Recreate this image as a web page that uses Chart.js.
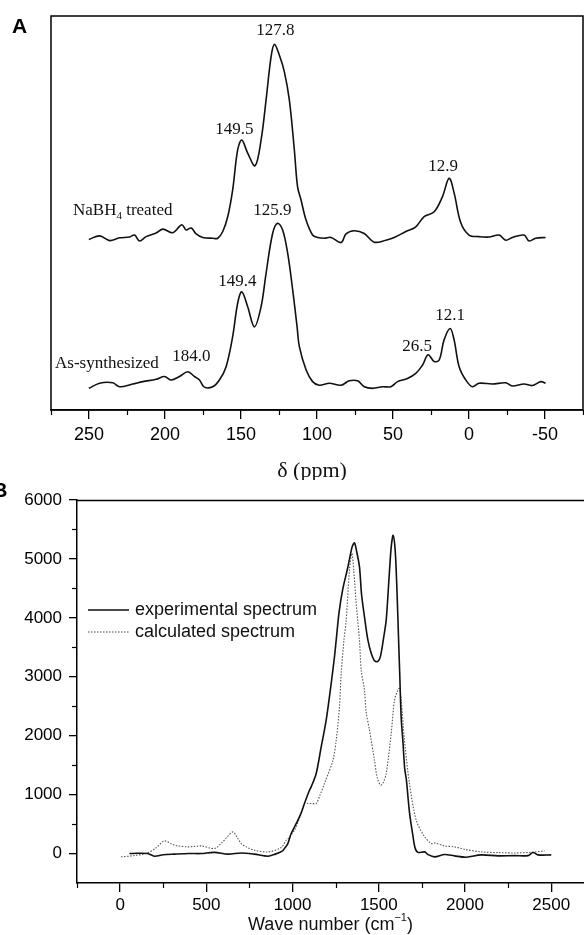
<!DOCTYPE html>
<html><head><meta charset="utf-8">
<script src="https://cdn.jsdelivr.net/npm/chart.js@4.4.0/dist/chart.umd.min.js"></script>
<style>
html,body{margin:0;padding:0;background:#fff;overflow:hidden;width:584px;height:935px;}
#cA{position:absolute;left:0;top:0;}
#cB{position:absolute;left:0;top:478px;}
</style></head><body>
<canvas id="cA" width="584" height="480"></canvas>
<canvas id="cB" width="584" height="457"></canvas>
<script>
// ---------- Panel A: 13C NMR (ppm vs arbitrary intensity) ----------
const nabhPpm = [250.1,243.0,236.5,229.9,223.3,220.0,216.8,212.4,205.8,201.4,194.9,189.0,186.1,182.8,179.5,175.2,168.6,165.3,162.0,158.7,155.5,152.2,149.5,145.6,140.7,136.8,133.5,130.2,128.0,124.8,121.5,118.2,114.9,112.8,110.5,107.2,102.9,99.6,95.2,90.8,84.2,80.9,75.5,68.9,62.4,54.7,49.2,41.5,35.0,29.5,22.9,17.5,13.1,9.8,5.4,0.0,-6.6,-13.2,-19.8,-24.2,-28.5,-36.2,-39.5,-43.9,-50.4];
const nabhInt = [43.3,44.2,43.0,43.7,43.9,44.4,42.9,44.0,44.9,45.9,45.0,47.0,45.7,46.2,44.7,43.8,43.6,43.6,45.3,49.1,55.8,66.0,68.5,65.2,62.0,68.5,78.7,89.7,92.8,90.1,85.9,78.7,66.0,56.7,53.3,48.2,44.4,43.8,43.6,43.8,42.5,44.7,45.5,44.8,42.6,43.1,43.8,45.3,46.5,49.1,50.3,54.1,58.8,55.1,47.5,44.4,44.0,43.9,44.4,43.1,43.8,44.4,42.9,43.6,43.8];
const asPpm = [250.1,243.0,234.3,229.9,221.2,214.6,205.8,200.3,195.9,190.5,185.0,180.6,177.3,174.1,168.6,164.2,159.8,155.5,152.2,149.5,145.6,141.2,136.8,133.5,129.2,125.9,122.6,119.3,116.0,113.1,111.6,107.2,102.9,98.5,91.9,84.2,78.8,73.3,68.9,63.5,56.9,51.4,47.0,40.5,35.0,30.6,26.9,22.9,19.6,16.4,12.4,9.8,6.5,2.1,-2.2,-6.6,-15.4,-24.2,-28.5,-36.2,-41.6,-47.2,-50.4];
const asInt = [5.5,6.8,6.9,5.9,6.6,7.2,7.8,8.5,7.6,8.5,9.7,8.5,7.6,5.8,5.9,7.6,11.0,18.6,27.1,30.0,26.2,21.1,26.2,34.7,44.8,47.4,45.7,39.8,30.5,21.1,16.1,10.2,7.2,6.3,6.8,6.3,7.4,7.4,5.9,5.5,5.9,5.9,7.2,8.0,9.3,11.4,14.0,12.3,12.7,17.8,20.7,17.8,11.0,7.6,5.9,6.8,6.6,6.9,6.1,6.6,6.2,7.2,6.8];
const ppmTicks = [250,200,150,100,50,0,-50];
const ppmMinor = [275,225,175,125,75,25,-25,-75];

// ---------- Panel B: spectra (wave number vs intensity) ----------
const expWn = [54,100,160,199,250,315,400,470,546,626,702,778,857,900,940,953,972,992,1011,1031,1050,1069,1098,1108,1137,1166,1195,1224,1243,1253,1270,1292,1320,1345,1359,1370,1388,1400,1417,1437,1456,1475,1495,1510,1530,1543,1560,1572,1583,1595,1605,1614,1622,1630,1640,1650,1660,1678,1698,1710,1727,1766,1785,1823,1881,1939,2007,2094,2191,2287,2365,2394,2423,2500];
const expInt = [0,5,0,-45,-20,-10,0,0,20,-10,10,-10,-45,-10,40,85,165,340,450,566,690,849,1075,1131,1358,1810,2263,2886,3338,3621,4100,4499,4850,5200,5273,5150,4866,4400,4017,3621,3400,3270,3260,3350,3700,3961,4700,5200,5400,5150,4500,3700,3000,2300,1900,1450,1250,700,300,100,20,28,-17,-57,-17,-40,-62,-23,-40,-35,-35,17,-23,-23];
const calcWn = [6,83,160,210,257,300,335,393,430,470,547,586,620,654,680,702,740,779,857,934,963,973,1011,1040,1069,1089,1110,1137,1160,1185,1234,1253,1272,1282,1298,1311,1330,1344,1355,1369,1388,1398,1417,1427,1446,1475,1490,1510,1525,1543,1572,1591,1611,1620,1630,1649,1678,1717,1766,1804,1823,1880,1939,2000,2094,2200,2287,2380,2461];
const calcInt = [-57,-34,10,100,214,160,130,113,120,130,85,170,280,367,270,170,100,57,28,102,226,250,396,600,849,850,850,849,1000,1188,1584,1924,2490,3056,3621,3961,4810,5093,4800,4244,3621,3112,2773,2400,2094,1584,1300,1160,1200,1358,2037,2600,2773,2801,2603,1924,1188,566,283,170,180,130,113,70,28,15,10,20,45];
const wnTicks = [0,500,1000,1500,2000,2500];
const wnMinor = [-250,250,750,1250,1750,2250];
const intTicks = [0,1000,2000,3000,4000,5000,6000];
const intMinor = [500,1500,2500,3500,4500,5500];

// annotation texts for panel A (anchored in data coordinates)
const aLabels = [
  {t:'127.8', x:127.4, y:96.2},
  {t:'149.5', x:154.3, y:71.1},
  {t:'12.9',  x:17.0,  y:61.7},
  {t:'125.9', x:129.4, y:50.5},
  {t:'149.4', x:152.4, y:32.7},
  {t:'184.0', x:182.6, y:13.5},
  {t:'26.5',  x:34.1,  y:16.2},
  {t:'12.1',  x:12.4,  y:23.9}
];

const pts = (xs, ys) => xs.map((x, i) => ({x: x, y: ys[i]}));
const SERIF = '"Liberation Serif", "Times New Roman", serif';
const SANS = '"Liberation Sans", Arial, sans-serif';

function drawSubText(ctx, x, y, parts, align) {
  let total = 0;
  parts.forEach(p => { ctx.font = p.font; total += ctx.measureText(p.t).width; });
  let cx = align === 'center' ? x - total / 2 : x;
  ctx.textAlign = 'left';
  parts.forEach(p => {
    ctx.font = p.font;
    ctx.fillText(p.t, cx, y + (p.dy || 0));
    cx += ctx.measureText(p.t).width;
  });
}

const plugA = {
  id: 'plugA',
  afterDraw(chart) {
    const ctx = chart.ctx, a = chart.chartArea, xs = chart.scales.x, ys = chart.scales.y;
    ctx.save();
    ctx.strokeStyle = '#000'; ctx.lineWidth = 1.5;
    ctx.strokeRect(a.left, a.top, a.right - a.left, a.bottom - a.top);
    ctx.lineWidth = 1.2;
    ppmMinor.forEach(v => {
      const px = Math.round(xs.getPixelForValue(v)) + 0.5;
      ctx.beginPath(); ctx.moveTo(px, a.bottom); ctx.lineTo(px, a.bottom + 5); ctx.stroke();
    });
    ctx.fillStyle = '#111';
    ctx.textBaseline = 'middle'; ctx.textAlign = 'center';
    ctx.font = '17px ' + SERIF;
    aLabels.forEach(l => {
      ctx.fillText(l.t, xs.getPixelForValue(l.x), ys.getPixelForValue(l.y));
    });
    drawSubText(ctx, 73, 211, [
      {t:'NaBH', font:'17px ' + SERIF},
      {t:'4', font:'11px ' + SERIF, dy:5},
      {t:' treated', font:'17px ' + SERIF}
    ], 'left');
    ctx.font = '17px ' + SERIF; ctx.textAlign = 'left';
    ctx.fillText('As-synthesized', 55, 364);
    ctx.textAlign = 'center';
    ctx.font = '22px ' + SERIF;
    ctx.fillText('\u03b4 (ppm)', (a.left + a.right) / 2 - 5, 471);
    ctx.font = 'bold 21px ' + SANS; ctx.textAlign = 'left'; ctx.textBaseline = 'alphabetic';
    ctx.fillStyle = '#000';
    ctx.fillText('A', 12, 33);
    ctx.restore();
  }
};

new Chart(document.getElementById('cA'), {
  type: 'line',
  data: { datasets: [
    {label: 'NaBH4 treated', data: pts(nabhPpm, nabhInt), borderColor: '#111', borderWidth: 1.6, pointRadius: 0, tension: 0.35, fill: false},
    {label: 'As-synthesized', data: pts(asPpm, asInt), borderColor: '#111', borderWidth: 1.6, pointRadius: 0, tension: 0.35, fill: false}
  ]},
  options: {
    responsive: false, animation: false, events: [],
    layout: {padding: {left: 51, right: 1, top: 16, bottom: 0}},
    plugins: {legend: {display: false}, tooltip: {enabled: false}},
    scales: {
      x: {type: 'linear', reverse: true, min: -75, max: 275,
        afterBuildTicks: s => { s.ticks = ppmTicks.map(v => ({value: v})); },
        afterFit: s => { s.height = 70; },
        grid: {drawOnChartArea: false, drawTicks: true, tickLength: 9, color: '#000', lineWidth: 1.3},
        border: {display: true, color: '#000', width: 1.5},
        ticks: {color: '#000', font: {family: SANS, size: 18}, padding: 5, maxRotation: 0, autoSkip: false,
          callback: v => String(v)}
      },
      y: {display: false, min: 0, max: 100}
    }
  },
  plugins: [plugA]
});

const OFFB = 478;
const plugB = {
  id: 'plugB',
  afterDraw(chart) {
    const ctx = chart.ctx, a = chart.chartArea, xs = chart.scales.x, ys = chart.scales.y;
    ctx.save();
    ctx.strokeStyle = '#000'; ctx.lineWidth = 1.5;
    ctx.beginPath(); ctx.moveTo(a.left, a.top + 0.5); ctx.lineTo(a.right + 2, a.top + 0.5); ctx.stroke();
    ctx.lineWidth = 1.2;
    wnMinor.forEach(v => {
      const px = Math.round(xs.getPixelForValue(v)) + 0.5;
      ctx.beginPath(); ctx.moveTo(px, a.bottom); ctx.lineTo(px, a.bottom + 5); ctx.stroke();
    });
    intMinor.forEach(v => {
      const py = Math.round(ys.getPixelForValue(v)) + 0.5;
      ctx.beginPath(); ctx.moveTo(a.left, py); ctx.lineTo(a.left - 5, py); ctx.stroke();
    });
    // legend
    const lx0 = 88, lx1 = 129;
    ctx.strokeStyle = '#111'; ctx.lineWidth = 1.6;
    ctx.beginPath(); ctx.moveTo(lx0, 610 - OFFB); ctx.lineTo(lx1, 610 - OFFB); ctx.stroke();
    ctx.strokeStyle = '#444'; ctx.lineWidth = 1.1; ctx.setLineDash([1.5, 1.5]);
    ctx.beginPath(); ctx.moveTo(lx0, 632 - OFFB); ctx.lineTo(lx1, 632 - OFFB); ctx.stroke();
    ctx.setLineDash([]);
    ctx.fillStyle = '#111'; ctx.textBaseline = 'middle'; ctx.textAlign = 'left';
    ctx.font = '18px ' + SANS;
    ctx.fillText(chart.data.datasets[0].label, 135, 610 - OFFB);
    ctx.fillText(chart.data.datasets[1].label, 135, 632 - OFFB);
    // axis title with superscript
    drawSubText(ctx, (a.left + a.right) / 2, 925 - OFFB, [
      {t:'Wave number (cm', font:'18px ' + SANS},
      {t:'\u22121', font:'11px ' + SANS, dy:-7},
      {t:')', font:'18px ' + SANS}
    ], 'center');
    ctx.font = 'bold 20px ' + SANS; ctx.textBaseline = 'alphabetic'; ctx.fillStyle = '#000';
    ctx.fillText('B', -7, 497 - OFFB);
    ctx.restore();
  }
};

new Chart(document.getElementById('cB'), {
  type: 'line',
  data: { datasets: [
    {label: 'experimental spectrum', data: pts(expWn, expInt), borderColor: '#111', borderWidth: 1.6, pointRadius: 0, tension: 0.3, fill: false},
    {label: 'calculated spectrum', data: pts(calcWn, calcInt), borderColor: '#555', borderWidth: 1.1, borderDash: [1.5, 1.5], pointRadius: 0, tension: 0.3, fill: false}
  ]},
  options: {
    responsive: false, animation: false, events: [],
    layout: {padding: {left: 0, right: 0, top: 22, bottom: 0}},
    plugins: {legend: {display: false}, tooltip: {enabled: false}},
    scales: {
      x: {type: 'linear', min: -250, max: 2690,
        afterBuildTicks: s => { s.ticks = wnTicks.map(v => ({value: v})); },
        afterFit: s => { s.height = 52; },
        grid: {drawOnChartArea: false, drawTicks: true, tickLength: 9, color: '#000', lineWidth: 1.3},
        border: {display: true, color: '#000', width: 1.5},
        ticks: {color: '#000', font: {family: SANS, size: 17}, padding: 3, maxRotation: 0, autoSkip: false,
          callback: v => String(v)}
      },
      y: {type: 'linear', min: -500, max: 6000,
        afterBuildTicks: s => { s.ticks = intTicks.map(v => ({value: v})); },
        afterFit: s => { s.width = 77; },
        grid: {drawOnChartArea: false, drawTicks: true, tickLength: 8, color: '#000', lineWidth: 1.3},
        border: {display: true, color: '#000', width: 1.5},
        ticks: {color: '#000', font: {family: SANS, size: 17}, padding: 7, autoSkip: false,
          callback: v => String(v)}
      }
    }
  },
  plugins: [plugB]
});
</script>
</body></html>
